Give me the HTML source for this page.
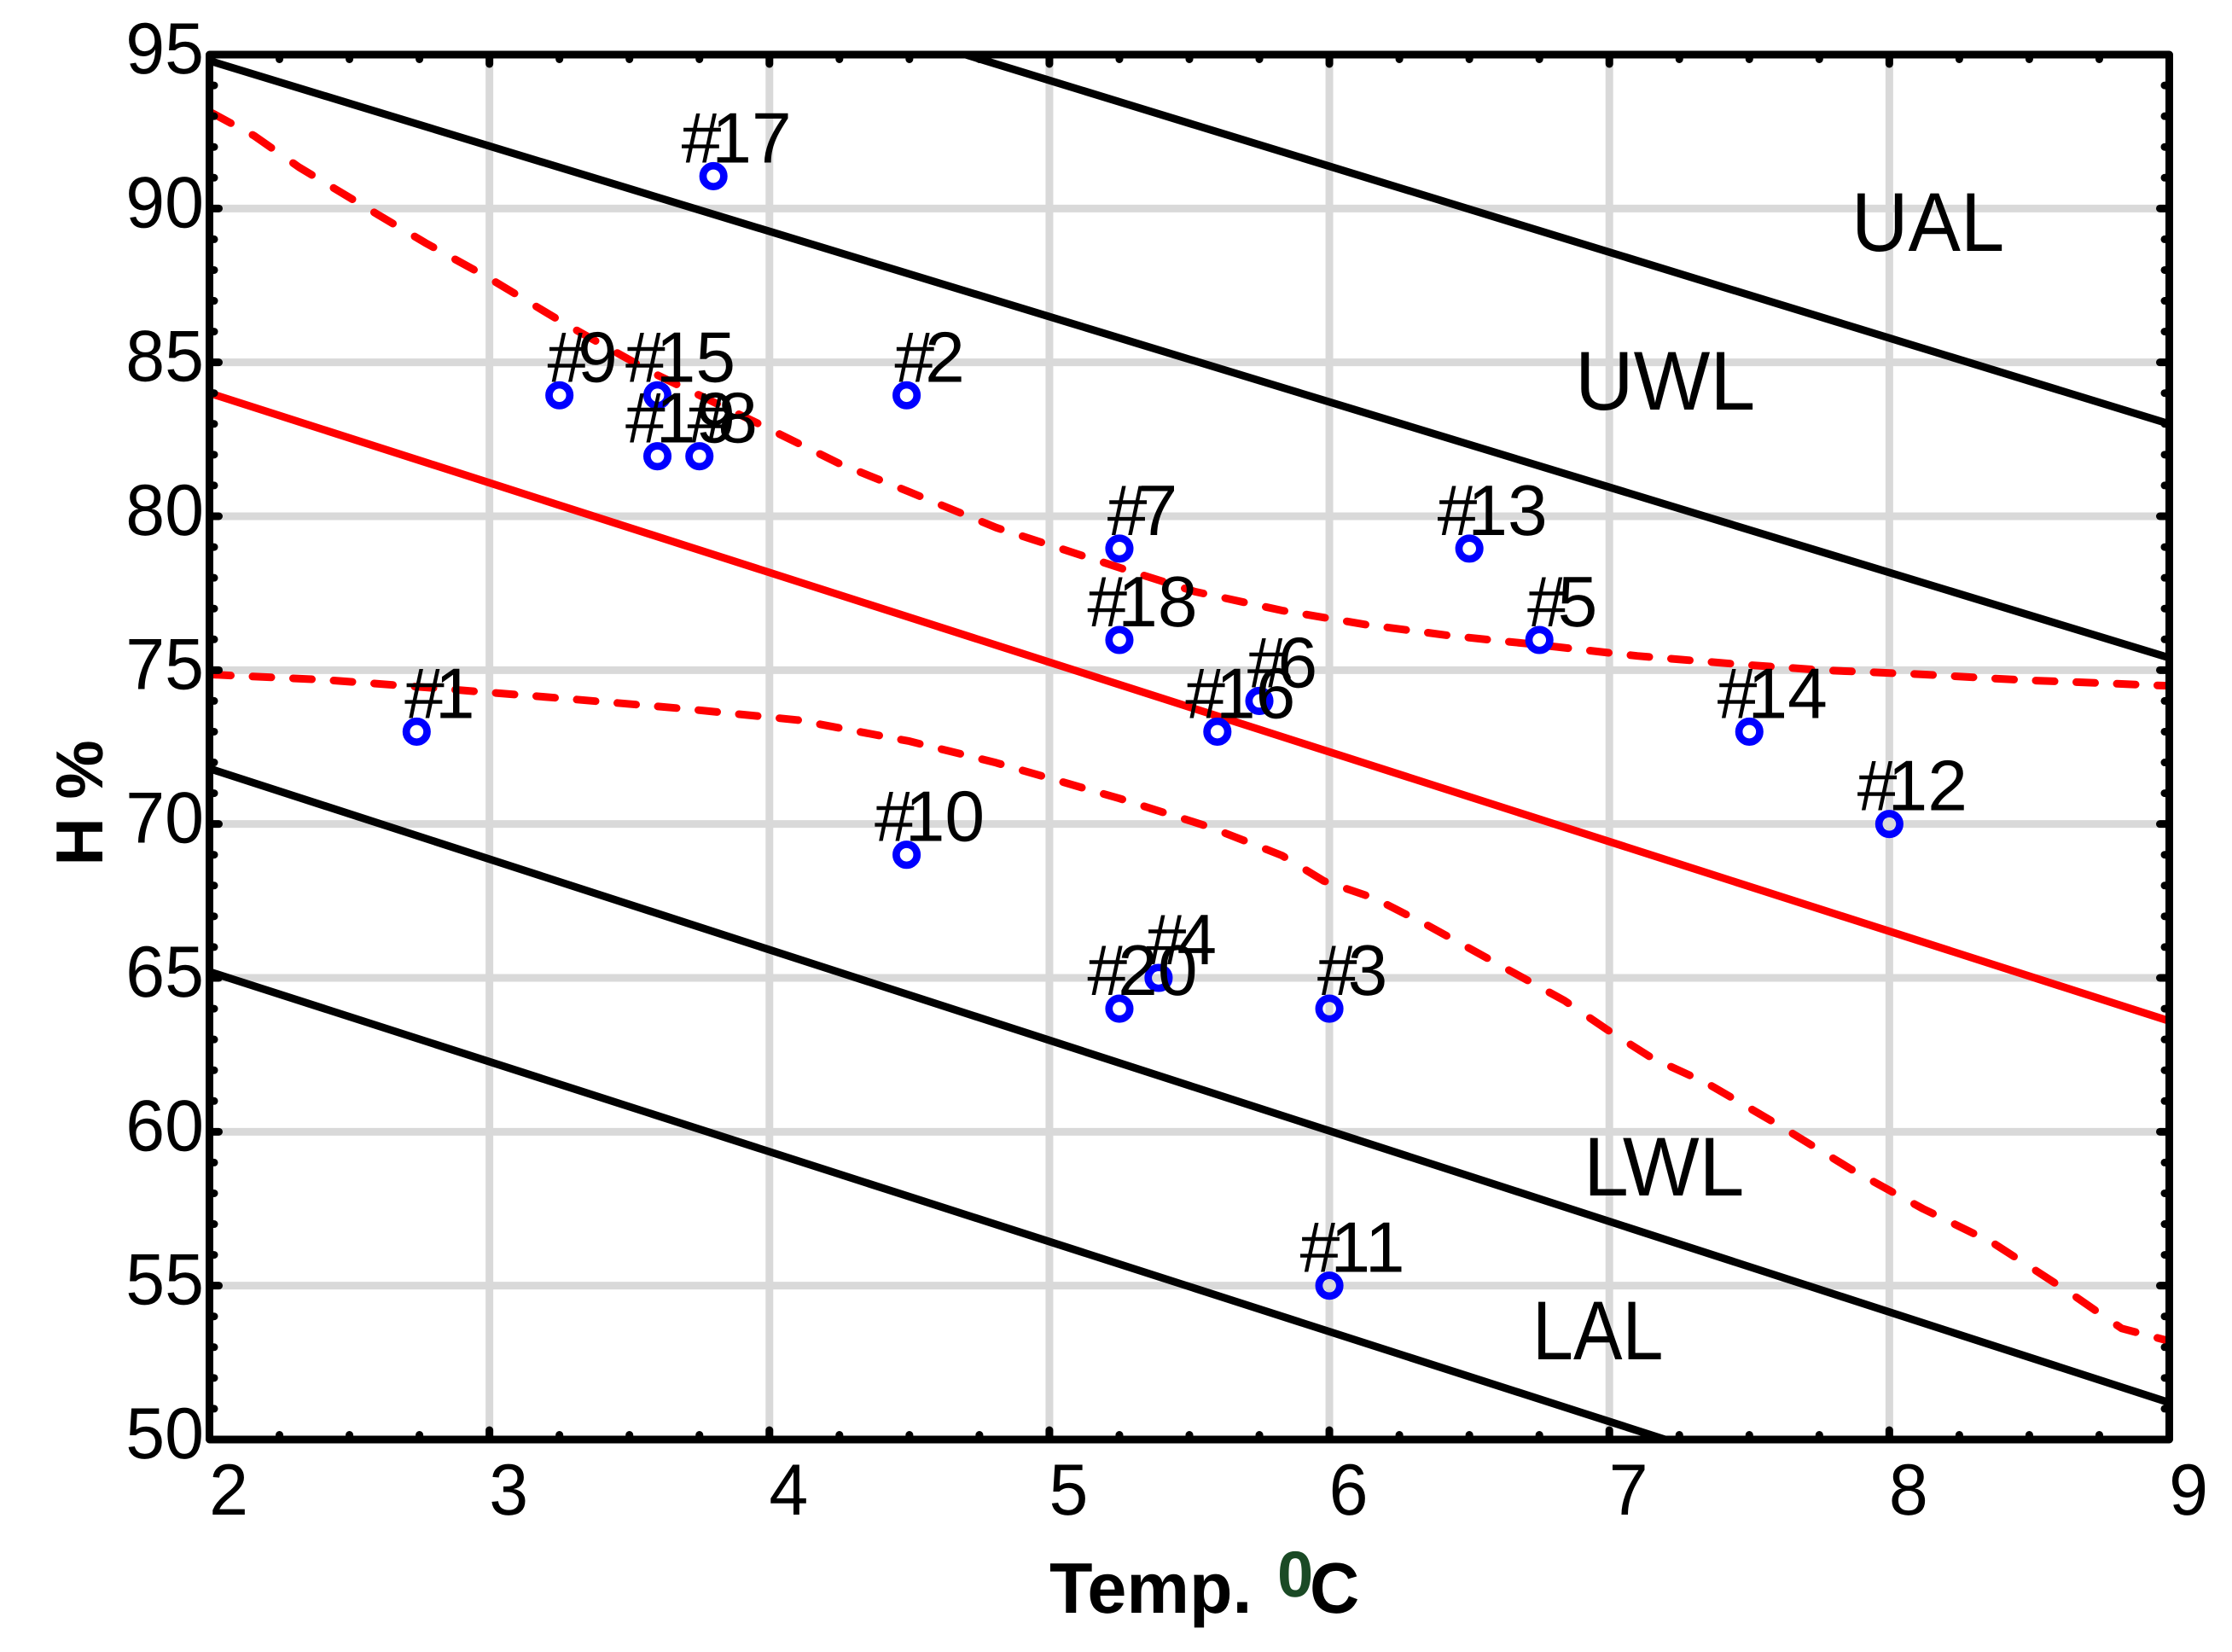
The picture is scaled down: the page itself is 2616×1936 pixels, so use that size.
<!DOCTYPE html>
<html lang="en">
<head>
<meta charset="utf-8">
<title>H % vs Temp. control chart</title>
<style>
html,body{margin:0;padding:0;background:#fff;}
svg{display:block;}
text{font-family:"Liberation Sans",Arial,sans-serif;fill:#000;text-rendering:geometricPrecision;}
</style>
</head>
<body>
<svg id="chart" xmlns="http://www.w3.org/2000/svg" width="2616" height="1936" viewBox="0 0 2616 1936"></svg>
<script>
const xTicks = [2, 3, 4, 5, 6, 7, 8, 9];
const yTicks = [50, 55, 60, 65, 70, 75, 80, 85, 90, 95];
const pointIds = ['#1','#2','#3','#4','#5','#6','#7','#8','#9','#10','#11','#12','#13','#14','#15','#16','#17','#18','#19','#20'];
const pointTemp = [2.74,4.49,6,5.39,6.75,5.75,5.25,3.75,3.25,4.49,6,8,6.5,7.5,3.6,5.6,3.8,5.25,3.6,5.25];
const pointHum = [73,83.93,64,65,75.98,74,78.95,81.95,83.93,69,55,70,78.95,73,83.93,73,91.05,75.98,81.95,64];
const ualTemp = [4.7, 9];
const ualHum = [95, 83];
const uwlTemp = [2, 9];
const uwlHum = [94.8, 75.4];
const meanTemp = [2, 9];
const meanHum = [84, 63.6];
const lwlTemp = [2, 9];
const lwlHum = [71.8, 51.2];
const lalTemp = [2, 7.2];
const lalHum = [65.2, 50];
const upperBandTemp = [2,2.16,2.32,2.6,2.77,3,3.28,3.59,3.94,4.25,4.5,4.81,5.25,5.52,5.83,6.13,6.44,6.74,7.1,7.46,7.76,8.12,8.47,9];
const upperBandHum = [93.15,92.36,91.34,89.81,88.89,87.73,86.2,84.63,83.1,81.71,80.79,79.63,78.33,77.55,76.94,76.48,76.11,75.83,75.46,75.19,75,74.86,74.68,74.49];
const lowerBandTemp = [2,2.42,2.77,3.28,3.69,4.1,4.5,4.81,5.25,5.57,5.83,5.98,6.16,6.34,6.59,6.84,6.99,7.15,7.35,7.61,7.86,8.12,8.37,8.63,8.83,9];
const lowerBandHum = [74.86,74.68,74.44,74.07,73.75,73.38,72.69,71.99,70.83,69.91,68.98,68.15,67.59,66.76,65.51,64.26,63.33,62.41,61.57,60.19,58.8,57.5,56.39,54.86,53.61,53.2];

const NS = 'http://www.w3.org/2000/svg';
const svg = document.getElementById('chart');
const X0 = 245.5, X1 = 2542.5, Y95 = 64, Y50 = 1687;
const sx = v => X0 + (v - 2) * (X1 - X0) / 7;
const sy = v => Y50 - (v - 50) * (Y50 - Y95) / 45;

function make(tag, attrs, parent) {
  const el = document.createElementNS(NS, tag);
  for (const k in attrs) el.setAttribute(k, attrs[k]);
  (parent || svg).appendChild(el);
  return el;
}
function label(str, x, y, size, squeeze, anchor, weight, parent) {
  const el = make('text', {
    transform: 'translate(' + x + ',' + y + ') scale(' + squeeze + ',1)',
    'font-size': size,
    'text-anchor': anchor,
    'font-weight': weight
  }, parent);
  el.textContent = str;
  return el;
}
function pathOf(xs, ys) {
  return xs.map((v, i) => (i ? 'L' : 'M') + sx(v).toFixed(1) + ' ' + sy(ys[i]).toFixed(1)).join(' ');
}
/* dashes repeat at a fixed horizontal period, as in the reference */
function dashedPathOf(xs, ys) {
  const px = xs.map(sx), py = ys.map(sy);
  const at = function (x) {
    for (let i = 1; i < px.length; i++) {
      if (x <= px[i]) {
        const f = (x - px[i - 1]) / (px[i] - px[i - 1]);
        return py[i - 1] + f * (py[i] - py[i - 1]);
      }
    }
    return py[py.length - 1];
  };
  let d = '';
  const period = 47.5, width = 22;
  for (let s = X0 + 3; s < X1; s += period) {
    const e = Math.min(s + width, X1);
    d += 'M' + s.toFixed(1) + ' ' + at(s).toFixed(1);
    px.forEach(function (x, i) {
      if (x > s && x < e) d += ' L' + x.toFixed(1) + ' ' + py[i].toFixed(1);
    });
    d += ' L' + e.toFixed(1) + ' ' + at(e).toFixed(1) + ' ';
  }
  return d;
}

const defs = make('defs', {});
const clip = make('clipPath', {id: 'plot-clip'}, defs);
make('rect', {x: X0, y: Y95, width: X1 - X0, height: Y50 - Y95}, clip);

/* grid */
const grid = make('g', {stroke: '#d9d9d9', 'stroke-width': 9});


xTicks.slice(1, -1).forEach(function (t) {
  const l = make('line', {x1: sx(t), x2: sx(t), y1: Y95, y2: Y50}, grid);
  
  
});
yTicks.slice(1, -1).forEach(function (t) {
  const l = make('line', {x1: X0, x2: X1, y1: sy(t), y2: sy(t)}, grid);
  
  
});

/* series */
const plot = make('g', {'clip-path': 'url(#plot-clip)', fill: 'none'});



const ualLine = make('path', {d: pathOf(ualTemp, ualHum), stroke: '#000', 'stroke-width': 9}, plot);


const uwlLine = make('path', {d: pathOf(uwlTemp, uwlHum), stroke: '#000', 'stroke-width': 9}, plot);


const lwlLine = make('path', {d: pathOf(lwlTemp, lwlHum), stroke: '#000', 'stroke-width': 9}, plot);


const lalLine = make('path', {d: pathOf(lalTemp, lalHum), stroke: '#000', 'stroke-width': 9}, plot);


const meanLine = make('path', {d: pathOf(meanTemp, meanHum), stroke: '#ff0000', 'stroke-width': 9}, plot);



const upperBand = make('path', {d: dashedPathOf(upperBandTemp, upperBandHum), stroke: '#ff0000', 'stroke-width': 9, 'stroke-linecap': 'round', 'stroke-linejoin': 'round'}, plot);


const lowerBand = make('path', {d: dashedPathOf(lowerBandTemp, lowerBandHum), stroke: '#ff0000', 'stroke-width': 9, 'stroke-linecap': 'round', 'stroke-linejoin': 'round'}, plot);



/* points */
pointIds.forEach(function (id, i) {
  const c = make('circle', {cx: sx(pointTemp[i]), cy: sy(pointHum[i]), r: 12.2, fill: 'none', stroke: '#0000ff', 'stroke-width': 8.7});
  
  
});
pointIds.forEach(function (id, i) {
  const t = label(id, sx(pointTemp[i]) + 27, sy(pointHum[i]) - 16, 84, 1, 'middle', 'normal');
  t.setAttribute('dx', '0 -11');
  
  
});

/* limit labels */
const ualLabel = label('UAL', 2170, 294, 98, 0.94, 'start', 'normal');


const uwlLabel = label('UWL', 1846, 480, 98, 0.97, 'start', 'normal');


const lwlLabel = label('LWL', 1856, 1401, 98, 0.97, 'start', 'normal');


const lalLabel = label('LAL', 1796, 1593, 98, 0.88, 'start', 'normal');



/* ticks */
const ticks = make('g', {stroke: '#000', 'stroke-linecap': 'round', 'stroke-width': 9});


function tick(x1, y1, x2, y2) { make('line', {x1: x1, y1: y1, x2: x2, y2: y2}, ticks); }
xTicks.forEach(function (t, i) {
  const x = sx(t);
  if (i > 0 && i < xTicks.length - 1) { tick(x, Y50, x, Y50 - 11); tick(x, Y95, x, Y95 + 11); }
  if (i < xTicks.length - 1) {
    [0.25, 0.5, 0.75].forEach(function (f) {
      tick(sx(t + f), Y50, sx(t + f), Y50 - 5.5);
      tick(sx(t + f), Y95, sx(t + f), Y95 + 5.5);
    });
  }
});
yTicks.forEach(function (t, i) {
  const y = sy(t);
  if (i > 0 && i < yTicks.length - 1) { tick(X0, y, X0 + 11, y); tick(X1, y, X1 - 11, y); }
  if (i < yTicks.length - 1) {
    [1, 2, 3, 4].forEach(function (f) {
      tick(X0, sy(t + f), X0 + 5.5, sy(t + f));
      tick(X1, sy(t + f), X1 - 5.5, sy(t + f));
    });
  }
});

/* frame */
const frame = make('rect', {x: X0, y: Y95, width: X1 - X0, height: Y50 - Y95, fill: 'none', stroke: '#000', 'stroke-width': 9, 'stroke-linejoin': 'round'});



/* tick labels */
xTicks.forEach(function (t) {
  const l = label(String(t), sx(t) + 22.5, 1775, 85, 0.97, 'middle', 'normal');
  
  
});
yTicks.forEach(function (t) {
  const l = label(String(t), 239, sy(t) + 22, 85, 0.97, 'end', 'normal');
  
  
});

/* axis titles */
const xTitle = label('Temp.', 1230, 1890, 84, 0.985, 'start', 'bold');


const degree = label('0', 1497, 1871, 76, 1, 'start', 'bold');
degree.setAttribute('fill', '#1a4a25');
degree.style.fill = '#1a4a25';


const xUnit = label('C', 1535, 1890, 84, 0.96, 'start', 'bold');


const yTitle = make('text', {transform: 'translate(120,941) rotate(-90)', 'font-size': 78, 'font-weight': 'bold', 'text-anchor': 'middle'});
yTitle.textContent = 'H %';


</script>
</body>
</html>
